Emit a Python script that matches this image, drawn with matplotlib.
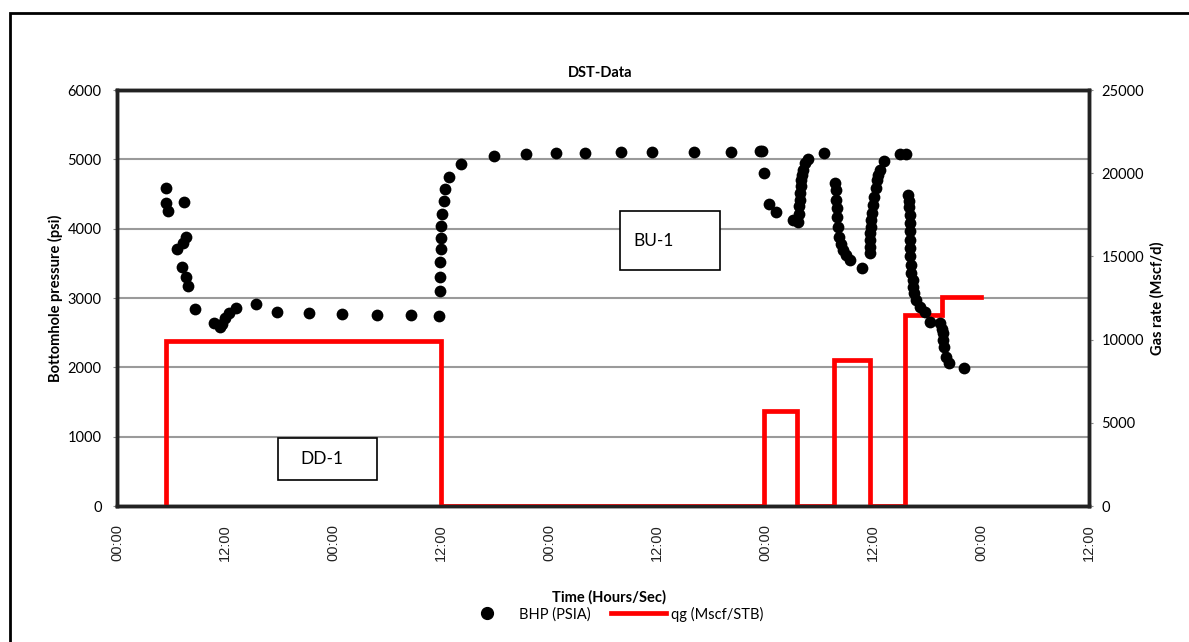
import matplotlib.pyplot as plt
from matplotlib.lines import Line2D
from matplotlib.patches import Rectangle

# bottomhole pressure readings: hours since start, psia
bhp_hours = [
    5.4, 5.5, 5.7, 7.5, 6.7, 7.3, 7.7, 7.2, 7.7, 7.9, 8.7,
    10.8, 11.4, 11.7, 12.0, 12.4, 13.2, 15.4, 17.8, 21.3, 25.0, 28.9, 32.7, 35.8,
    35.9, 35.9, 35.9, 36.0, 36.0, 36.0, 36.1, 36.3, 36.5, 36.9, 38.2,
    41.9, 45.5, 48.8, 52.0, 56.0, 59.4, 64.1, 68.2, 71.4, 71.7,
    71.9, 72.5, 73.2, 75.1, 75.7,
    75.8, 75.8, 75.9, 75.9, 76.0, 76.0, 76.1, 76.2, 76.5, 76.8, 78.6,
    79.8, 79.9, 79.9, 80.0, 80.0, 80.1, 80.2, 80.4, 80.7, 81.0, 81.4, 82.8,
    83.7, 83.7, 83.7, 83.7, 83.8, 83.8, 83.9, 84.0, 84.1, 84.3, 84.4, 84.6, 84.8, 85.2,
    87.0, 87.7,
    87.9, 88.0, 88.0, 88.1, 88.1, 88.1, 88.1, 88.1, 88.1, 88.2, 88.2, 88.4, 88.4,
    88.6, 88.8, 89.2, 89.8, 90.3, 91.4, 91.7, 91.8, 91.8, 91.9, 92.1, 92.5, 94.1,
]
bhp_psia = [
    4370, 4580, 4255, 4380, 3705, 3790, 3875, 3450, 3310, 3180, 2835,
    2645, 2585, 2620, 2705, 2780, 2850, 2910, 2800, 2780, 2770, 2755, 2750, 2745,
    3105, 3310, 3515, 3700, 3870, 4040, 4205, 4405, 4575, 4750, 4935,
    5050, 5075, 5085, 5095, 5100, 5105, 5105, 5110, 5115, 5115,
    4810, 4350, 4235, 4125, 4100,
    4215, 4320, 4420, 4510, 4610, 4700, 4775, 4845, 4940, 5000, 5095,
    4655, 4560, 4415, 4300, 4175, 4030, 3885, 3780, 3690, 3620, 3550, 3430,
    3645, 3740, 3840, 3935, 4030, 4125, 4220, 4340, 4460, 4580, 4700, 4780, 4850, 4980,
    5075, 5080,
    4485, 4400, 4317, 4200, 4080, 3960, 3840, 3720, 3600, 3480, 3355, 3260, 3165,
    3070, 2970, 2875, 2800, 2660, 2635, 2560, 2490, 2400, 2300, 2155, 2060, 1985,
]

# gas rate schedule (step changes), Mscf/d
qg_hours = [5.44, 5.44, 36.0, 71.9, 75.6, 79.7, 83.7, 87.6, 91.7, 96.0]
qg_rate = [0, 9900, 0, 5730, 0, 8800, 0, 11450, 12550, 12550]

tick_hours = list(range(0, 109, 12))
tick_labels = ["00:00" if h % 24 == 0 else "12:00" for h in tick_hours]

CAL = ["Lato", "DejaVu Sans"]
ARIAL = ["Liberation Sans", "DejaVu Sans"]

fig = plt.figure(figsize=(11.89, 6.42), dpi=100)
fig.add_artist(Rectangle((10 / 1189, -0.01), 1.2, 1 - 13 / 642 + 0.01,
                         transform=fig.transFigure, fill=False,
                         edgecolor="black", linewidth=2))

ax = fig.add_axes([117 / 1189, 136 / 642, 972 / 1189, 416 / 642])
ax2 = ax.twinx()

ax.set_xlim(0, 108)
ax.set_ylim(0, 6000)
ax2.set_ylim(0, 25000)

ax.set_yticks(range(0, 6001, 1000))
ax.grid(axis="y", color="#9a9a9a", linewidth=1.5)
ax.set_axisbelow(True)
ax2.set_yticks(range(0, 25001, 5000))

ax.set_xticks(tick_hours)
ax.set_xticklabels(tick_labels, rotation=90, family=ARIAL, fontsize=10.5)
ax.tick_params(axis="x", length=0, pad=13, colors="#222222")
ax.tick_params(axis="y", length=3, color="#888888", pad=8, labelsize=10.5)
ax2.tick_params(axis="y", length=3, color="#888888", pad=6, labelsize=10.5)
for lbl in ax.get_yticklabels() + ax2.get_yticklabels():
    lbl.set_family(CAL)

for a in (ax, ax2):
    for side, sp in a.spines.items():
        sp.set_color("#222222")
        sp.set_linewidth(2.5)

# gas rate on the right axis, pressure dots drawn on top in left-axis units
ax2.plot(qg_hours, qg_rate, color="red", linewidth=3.4, drawstyle="steps-post",
         solid_joinstyle="miter", zorder=2)
ax2.scatter(bhp_hours, bhp_psia, s=72, color="black", linewidths=0,
            transform=ax.transData, zorder=3)
ax2.set_ylim(0, 25000)

ax.set_ylabel("Bottomhole pressure (psi)", family=CAL, fontsize=10.5,
              fontweight="bold", labelpad=3)
ax2.set_ylabel("Gas rate (Mscf/d)", family=CAL, fontsize=10.5,
               fontweight="bold", labelpad=4)
fig.text(600 / 1189, 1 - 73 / 642, "DST-Data", family=CAL, fontsize=10.5,
         fontweight="bold", ha="center", va="center")
fig.text(609 / 1189, 1 - 597 / 642, "Time (Hours/Sec)", family=CAL, fontsize=10.5,
         fontweight="bold", ha="center", va="center")

# flow period labels
for (x0, y0, x1, y1), txt, tx in [((620, 211, 720, 270), "BU-1", 633),
                                   ((278, 438, 377, 480), "DD-1", 300)]:
    fig.add_artist(Rectangle((x0 / 1189, 1 - y1 / 642), (x1 - x0) / 1189,
                             (y1 - y0) / 642, transform=fig.transFigure,
                             facecolor="white", edgecolor="black", linewidth=1.2))
    fig.text(tx / 1189, 1 - ((y0 + y1) / 2) / 642, txt, family=CAL, fontsize=12.5,
             ha="left", va="center")

handles = [Line2D([], [], linestyle="none", marker="o", markersize=8.5,
                  color="black", label="BHP (PSIA)"),
           Line2D([], [], color="red", linewidth=3.4, label="qg (Mscf/STB)")]
fig.legend(handles=handles, loc="center", bbox_to_anchor=(611 / 1189, 1 - 614 / 642),
           ncol=2, frameon=False, handlelength=3.8, handletextpad=0.3,
           columnspacing=1.4, prop={"family": CAL, "size": 10.5})

fig.savefig("out.png", dpi=100)
